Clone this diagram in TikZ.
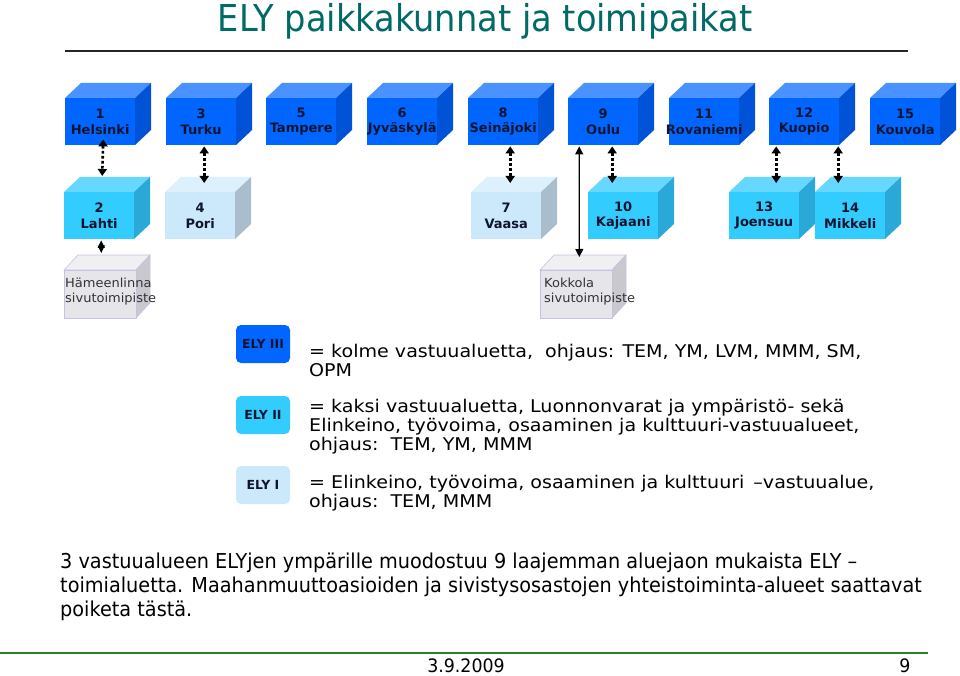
\documentclass[tikz,border=0pt]{standalone}
\usepackage{fontspec}
\setmainfont{DejaVu Sans}
\newfontfamily\condfont[FakeStretch=0.94]{DejaVu Sans}
\newfontfamily\titlefont[FakeStretch=0.91]{DejaVu Sans}
\newfontfamily\legfont[FakeStretch=1.09]{DejaVu Sans}
\newfontfamily\grayfont[FakeStretch=1.04]{DejaVu Sans}
\usetikzlibrary{arrows.meta,calc}

\definecolor{bthreefront}{HTML}{0066FF}
\definecolor{bthreetop}{HTML}{4A92FF}
\definecolor{bthreeside}{HTML}{0052D6}
\definecolor{btwofront}{HTML}{33CCFF}
\definecolor{btwotop}{HTML}{66D8FF}
\definecolor{btwoside}{HTML}{2AA8D8}
\definecolor{bonefront}{HTML}{CCE9FB}
\definecolor{bonetop}{HTML}{DDF1FD}
\definecolor{boneside}{HTML}{A9BDCC}
\definecolor{gfront}{HTML}{E6E6EA}
\definecolor{gtop}{HTML}{F0F0F3}
\definecolor{gside}{HTML}{C8C8CE}
\definecolor{gedge}{HTML}{C4C4E0}
\definecolor{navy}{HTML}{0F1530}
\definecolor{titleteal}{HTML}{006B66}
\definecolor{footgreen}{HTML}{2E7D32}
\definecolor{graytext}{HTML}{333333}

\def\cw{70}\def\ch{47}\def\cdx{16}\def\cdy{15}
\newcommand\elycube[8]{%
  \fill[#5,#8] (#2,#3) -- ({#2+\cdx},{#3-\cdy}) -- ({#2+\cw+\cdx},{#3-\cdy}) -- ({#2+\cw},#3) -- cycle;
  \fill[#6,#8] ({#2+\cw},#3) -- ({#2+\cw+\cdx},{#3-\cdy}) -- ({#2+\cw+\cdx},{#3+\ch-\cdy}) -- ({#2+\cw},{#3+\ch}) -- cycle;
  \node[fill=#4,minimum width=\cw pt,minimum height=\ch pt,inner sep=0pt,anchor=north west,#8] (#1) at (#2,#3) {};
  \node[cubetext] (#1-t) at (#1.center) {#7};
}

\tikzset{
  cubetext/.style={align=center,text=navy,font=\bfseries\fontsize{13}{15.5}\selectfont,inner sep=0pt},
  dotarr/.style={line width=2.6pt,dash pattern=on 2.6pt off 2.4pt,
    {Triangle[length=7pt,width=9pt]}-{Triangle[length=7pt,width=9pt]}},
  solarr/.style={line width=1.3pt,{Triangle[length=8pt,width=8pt]}-{Triangle[length=8pt,width=8pt]}},
  diaarr/.style={line width=1.2pt,{Triangle[length=7.5pt,width=7pt]}-{Triangle[length=7.5pt,width=7pt]}},
  legbox/.style={rounded corners=5pt,minimum width=54pt,minimum height=38pt,inner sep=0pt,
    text=navy,font=\bfseries\fontsize{12.5}{14}\selectfont},
  legtext/.style={anchor=base west,inner sep=0pt,font=\legfont\fontsize{17.5}{19}\selectfont,text=black},
  paratext/.style={anchor=base west,inner sep=0pt,font=\condfont\fontsize{20.5}{22}\selectfont,text=black},
  graylbl/.style={anchor=west,align=left,inner sep=0pt,text=graytext,font=\grayfont\fontsize{12.5}{15}\selectfont},
  foottext/.style={anchor=base,inner sep=0pt,font=\condfont\fontsize{18.5}{20}\selectfont},
}

\begin{document}
\begin{tikzpicture}[x=1pt,y=-1pt]
\useasboundingbox[fill=white] (0,0) rectangle (960,676);

% title
\node[anchor=base,inner sep=0pt,text=titleteal,font=\titlefont\fontsize{37}{40}\selectfont] (title) at (485,32) {ELY paikkakunnat ja toimipaikat};
\coordinate (tl) at (65,51);
\coordinate (tr) at (908,51);
\draw[line width=1.8pt,black!85] (tl) -- (tr);

% top row
\elycube{hel}{65}{98}{bthreefront}{bthreetop}{bthreeside}{1\\Helsinki}{}
\elycube{tur}{166}{98}{bthreefront}{bthreetop}{bthreeside}{3\\Turku}{}
\elycube{tam}{266}{98}{bthreefront}{bthreetop}{bthreeside}{5\\Tampere}{}
\elycube{jyv}{367}{98}{bthreefront}{bthreetop}{bthreeside}{6\\Jyväskylä}{}
\elycube{sei}{468}{98}{bthreefront}{bthreetop}{bthreeside}{8\\Seinäjoki}{}
\elycube{oul}{568}{98}{bthreefront}{bthreetop}{bthreeside}{9\\Oulu}{}
\elycube{rov}{669}{98}{bthreefront}{bthreetop}{bthreeside}{11\\Rovaniemi}{}
\elycube{kuo}{769}{98}{bthreefront}{bthreetop}{bthreeside}{12\\Kuopio}{}
\elycube{kou}{870}{98}{bthreefront}{bthreetop}{bthreeside}{15\\Kouvola}{}

% second row
\elycube{lah}{64}{192}{btwofront}{btwotop}{btwoside}{2\\Lahti}{}
\elycube{por}{165}{192}{bonefront}{bonetop}{boneside}{4\\Pori}{}
\elycube{vaa}{471}{192}{bonefront}{bonetop}{boneside}{7\\Vaasa}{}
\elycube{kaj}{588}{192}{btwofront}{btwotop}{btwoside}{10\\Kajaani}{}
\elycube{joe}{729}{192}{btwofront}{btwotop}{btwoside}{13\\Joensuu}{}
\elycube{mik}{815}{192}{btwofront}{btwotop}{btwoside}{14\\Mikkeli}{}

% gray row
\def\cw{72}\def\ch{48}\def\cdx{14}\def\cdy{15}
\elycube{ham}{64}{270}{gfront}{gtop}{gside}{}{draw=gedge,line width=0.6pt}
\elycube{kok}{540}{270}{gfront}{gtop}{gside}{}{draw=gedge,line width=0.6pt}
\node[graylbl] (haml) at (65,292) {Hämeenlinna\\sivutoimipiste};
\node[graylbl] (kokl) at (544,292) {Kokkola\\sivutoimipiste};

% connectors
\draw[dotarr] ([xshift=3pt,yshift=6pt]hel.south) -- ([xshift=3pt,yshift=16pt]lah.north);
\draw[dotarr] ([xshift=3pt,yshift=-1pt]tur.south) -- ([xshift=4pt,yshift=9pt]por.north);
\draw[dotarr] ([xshift=7pt,yshift=-1pt]sei.south) -- ([xshift=4pt,yshift=9pt]vaa.north);
\draw[dotarr] ([xshift=9pt,yshift=-1pt]oul.south) -- ([xshift=-11pt,yshift=9pt]kaj.north);
\draw[dotarr] ([xshift=-28pt,yshift=-1pt]kuo.south) -- ([xshift=12pt,yshift=9pt]joe.north);
\draw[dotarr] ([xshift=34pt,yshift=-1pt]kuo.south) -- ([xshift=-12pt,yshift=9pt]mik.north);
\draw[solarr] ([xshift=-24pt,yshift=-1pt]oul.south) -- ([xshift=3pt,yshift=13pt]kok.north);
\draw[diaarr] ([xshift=2pt,yshift=-1pt]lah.south) -- ([xshift=1pt,yshift=17pt]ham.north);

% legend
\node[legbox,fill=bthreefront] (ely3) at (263,344) {ELY III};
\node[legbox,fill=btwofront] (ely2) at (263,415) {ELY II};
\node[legbox,fill=bonefront] (ely1) at (263,485) {ELY I};

\node[legtext] (l1a) at (309,357) {= kolme vastuualuetta,\ \ ohjaus: TEM, YM, LVM, MMM, SM,};
\node[legtext] (l1b) at (309,376) {OPM};
\node[legtext] (l2a) at (309,412) {= kaksi vastuualuetta, Luonnonvarat ja ympäristö- sekä};
\node[legtext] (l2b) at (309,431) {Elinkeino, työvoima, osaaminen ja kulttuuri-vastuualueet,};
\node[legtext] (l2c) at (309,450) {ohjaus:\ \ TEM, YM, MMM};
\node[legtext] (l3a) at (309,488) {= Elinkeino, työvoima, osaaminen ja kulttuuri \,–vastuualue,};
\node[legtext] (l3b) at (309,507) {ohjaus:\ \ TEM, MMM};

% paragraph
\node[paratext] (p1) at (60,568) {3 vastuualueen ELYjen ympärille muodostuu 9 laajemman aluejaon mukaista ELY –};
\node[paratext] (p2) at (60,592) {toimialuetta. Maahanmuuttoasioiden ja sivistysosastojen yhteistoiminta-alueet saattavat};
\node[paratext] (p3) at (60,616) {poiketa tästä.};

% footer
\coordinate (fl) at (0,653);
\coordinate (fr) at (928,653);
\draw[line width=1.8pt,footgreen] (fl) -- (fr);
\node[foottext] (date) at (466,672) {3.9.2009};
\node[foottext] (pg) at (905,672) {9};
\end{tikzpicture}
\end{document}
